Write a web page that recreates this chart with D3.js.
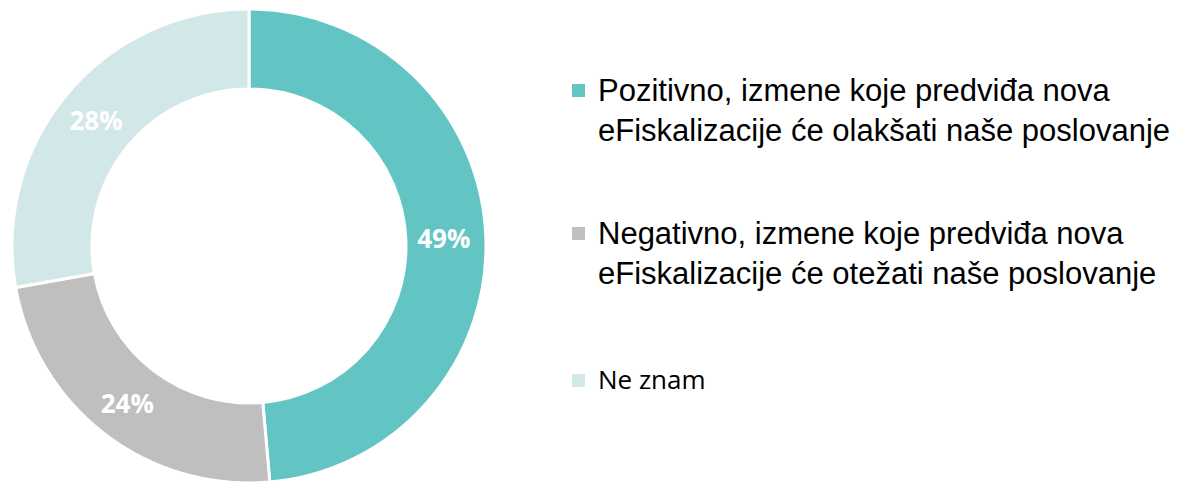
<!DOCTYPE html>
<html>
<head>
<meta charset="utf-8">
<script src="https://cdn.jsdelivr.net/npm/d3@7"></script>
<style>
  body { margin: 0; background: #fff; }
</style>
</head>
<body>
<svg width="1192" height="483"></svg>
<script>
// podaci
var categories = ["Pozitivno, izmene koje predviđa nova|eFiskalizacije će olakšati naše poslovanje",
                  "Negativno, izmene koje predviđa nova|eFiskalizacije će otežati naše poslovanje",
                  "Ne znam"];
var shares = [48.6, 23.6, 27.8];
var labels = ["49%", "24%", "28%"];
var colors = ["#62C5C4", "#BFBFBF", "#D2E7E8"];

var svg = d3.select("svg"),
    cx = 249, cy = 246,
    outerR = 237, innerR = 157;

var g = svg.append("g").attr("transform", "translate(" + cx + "," + cy + ")");

var pie = d3.pie().sort(null).value(function(d) { return d; });
var arc = d3.arc().innerRadius(innerR).outerRadius(outerR);

var arcs = pie(shares);

// segmenti
g.selectAll("path")
  .data(arcs)
  .enter().append("path")
  .attr("d", arc)
  .attr("fill", function(d, i) { return colors[i]; })
  .attr("stroke", "#fff")
  .attr("stroke-width", 3);

// procenti
g.selectAll("text.lbl")
  .data(arcs)
  .enter().append("text")
  .attr("class", "lbl")
  .attr("transform", function(d) { var c = arc.centroid(d); return "translate(" + (c[0] - 2) + "," + (c[1] + 1) + ")"; })
  .attr("text-anchor", "middle")
  .attr("dy", "0.36em")
  .attr("fill", "#fff")
  .attr("font-family", "'Open Sans', sans-serif")
  .attr("font-weight", "bold")
  .attr("font-size", 26)
  .text(function(d, i) { return labels[i]; });

// legenda
var legendY = [90, 233, 380];
var legend = svg.append("g")
  .selectAll("g")
  .data(categories)
  .enter().append("g")
  .attr("transform", function(d, i) { return "translate(572," + legendY[i] + ")"; });

legend.append("rect")
  .attr("x", 0)
  .attr("y", -6)
  .attr("width", 13)
  .attr("height", 13)
  .attr("fill", function(d, i) { return colors[i]; });

legend.append("text")
  .style("font-family", function(d, i) { return i < 2 ? "'Liberation Sans', Arial, sans-serif" : "'Open Sans', sans-serif"; })
  .attr("font-size", function(d, i) { return i < 2 ? 31 : 26; })
  .attr("fill", "#000")
  .each(function(d) {
    var lines = d.split("|");
    var t = d3.select(this);
    lines.forEach(function(line, j) {
      t.append("tspan")
        .attr("x", 26)
        .attr("y", j * 40)
        .attr("dy", "0.36em")
        .text(line);
    });
  });
</script>
</body>
</html>
